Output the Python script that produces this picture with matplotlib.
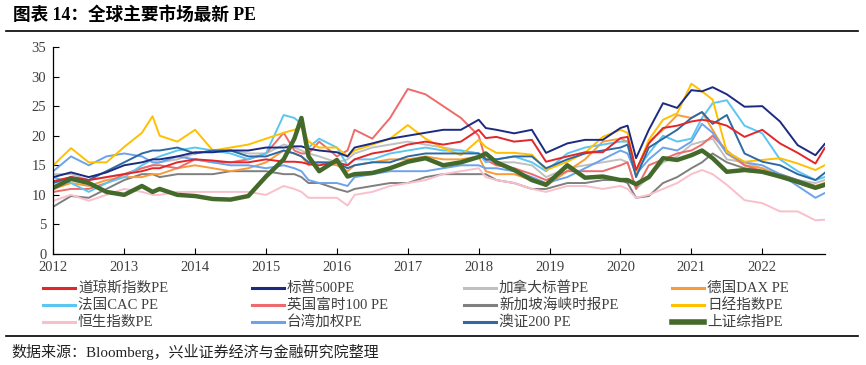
import matplotlib
matplotlib.use("Agg")
import matplotlib.pyplot as plt
from matplotlib.lines import Line2D

plt.rcParams['font.family'] = ['Liberation Serif', 'Noto Sans CJK SC']

title = "图表 14：全球主要市场最新 PE"
source = "数据来源：Bloomberg，兴业证券经济与金融研究院整理"

dates = [2012.0, 2012.25, 2012.5, 2012.75, 2013.0, 2013.25, 2013.4, 2013.5, 2013.75,
         2014.0, 2014.25, 2014.5, 2014.75, 2015.0, 2015.25, 2015.4, 2015.5, 2015.6, 2015.75,
         2016.0, 2016.15, 2016.25, 2016.5, 2016.75, 2017.0, 2017.25, 2017.5, 2017.75,
         2018.0, 2018.1, 2018.25, 2018.5, 2018.75, 2018.95, 2019.25, 2019.5, 2019.75,
         2020.0, 2020.1, 2020.22, 2020.4, 2020.6, 2020.8, 2021.0, 2021.15, 2021.3, 2021.5,
         2021.75, 2022.0, 2022.25, 2022.5, 2022.75, 2022.88]

year_ticks = list(range(2012, 2023))
y_ticks = [0, 5, 10, 15, 20, 25, 30, 35]

dow = [12.3, 13.0, 12.5, 13.0, 13.5, 14.0, 14.5, 14.5, 15.5, 16.0, 15.8, 15.5, 15.5, 16.0, 15.6, 15.6,
       15.5, 15.2, 15.0, 15.5, 15.0, 16.0, 17.0, 17.5, 18.5, 19.0, 18.5, 19.0, 21.0, 19.6, 19.8, 19.0,
       19.3, 15.6, 16.5, 17.2, 17.2, 19.6, 19.8, 14.2, 18.7, 21.3, 21.7, 22.4, 22.7, 22.4, 21.7, 19.8,
       21.0, 18.7, 17.1, 15.3, 17.9]
sp500 = [13.0, 13.8, 13.0, 13.8, 15.0, 15.5, 16.0, 16.0, 16.5, 17.2, 17.2, 17.5, 17.5, 18.0, 18.0, 18.2,
         18.2, 17.8, 17.5, 17.2, 16.5, 18.0, 18.7, 19.5, 20.0, 20.5, 21.0, 21.0, 22.7, 21.3, 21.0, 20.4,
         21.0, 17.1, 18.7, 19.3, 19.3, 21.3, 21.7, 16.2, 21.0, 25.5, 24.7, 27.7, 27.5, 28.2, 27.0, 24.9,
         25.0, 22.4, 18.4, 16.7, 18.6]
canada = [13.5, 13.5, 12.5, 13.0, 13.5, 14.5, 15.0, 15.5, 16.0, 17.0, 17.5, 17.5, 17.0, 17.0, 18.5, 18.0,
          17.5, 17.0, 16.5, 15.5, 16.0, 17.0, 18.0, 18.5, 19.0, 18.5, 18.0, 17.5, 17.0, 16.0, 15.5, 15.5,
          15.0, 13.0, 14.5, 15.0, 15.5, 16.0, 15.5, 11.0, 13.0, 15.5, 16.5, 18.5, 19.0, 19.5, 16.0, 15.5,
          14.5, 13.5, 12.5, 12.0, 12.5]
dax = [11.0, 12.0, 11.5, 12.5, 13.0, 13.0, 13.5, 13.5, 14.5, 15.0, 14.5, 14.0, 14.5, 15.5, 17.5, 17.0,
       16.5, 15.0, 15.5, 15.0, 14.0, 15.0, 15.5, 16.0, 16.0, 16.5, 16.0, 16.0, 16.5, 14.0, 13.5, 13.5,
       12.5, 11.5, 14.0, 16.0, 19.0, 19.5, 19.0, 14.0, 19.0, 21.0, 23.5, 23.0, 24.0, 21.0, 17.0, 15.0,
       14.5, 13.0, 12.0, 11.5, 12.0]
cac = [13.0, 12.0, 10.5, 12.0, 13.0, 15.0, 16.0, 16.5, 17.5, 18.0, 17.5, 17.0, 16.0, 17.0, 23.5, 23.0,
       22.0, 18.0, 19.5, 18.0, 15.0, 16.0, 16.0, 17.0, 17.5, 18.0, 17.5, 17.5, 17.0, 15.5, 16.0, 16.5,
       15.5, 14.0, 17.0, 18.0, 18.5, 19.0, 19.0, 14.0, 17.0, 20.0, 19.0, 19.5, 23.0, 25.5, 26.0, 21.7,
       20.4, 16.0, 14.0, 12.5, 13.0]
ftse = [10.5, 11.0, 11.0, 12.0, 13.5, 14.5, 15.0, 15.0, 14.5, 16.0, 15.5, 15.5, 16.0, 17.0, 20.5, 17.5,
        17.0, 17.0, 19.0, 16.5, 17.5, 21.0, 19.5, 23.0, 27.9, 27.0, 25.0, 23.0, 20.0, 15.9, 15.0, 14.5,
        13.5, 12.5, 14.0, 14.0, 14.0, 15.0, 15.5, 11.0, 15.0, 16.0, 17.0, 17.5, 18.5, 20.0, 17.5, 15.0,
        14.0, 13.0, 12.0, 11.0, 11.5]
singapore = [8.0, 9.8, 9.5, 11.0, 12.5, 13.5, 13.5, 13.0, 13.5, 13.5, 13.5, 14.0, 14.0, 14.0, 13.5, 13.5,
             13.0, 12.0, 12.0, 11.0, 10.5, 11.0, 11.5, 12.0, 12.0, 13.0, 13.5, 13.5, 13.5, 13.5, 12.5, 12.0,
             11.0, 11.0, 12.0, 12.0, 12.5, 12.5, 12.0, 9.5, 9.8, 12.0, 13.0, 14.5, 15.5, 17.0, 15.5, 14.5,
             14.0, 13.5, 12.5, 11.5, 11.5]
nikkei = [15.0, 17.9, 15.5, 15.5, 18.1, 20.5, 23.3, 20.0, 19.0, 21.0, 17.5, 18.0, 18.5, 19.5, 20.5, 21.0,
          21.5, 19.0, 18.0, 18.0, 16.5, 17.5, 18.5, 19.5, 21.8, 19.5, 17.9, 16.7, 19.3, 18.1, 17.1, 17.1,
          16.8, 14.2, 15.6, 17.1, 19.8, 21.0, 20.5, 13.9, 19.3, 22.7, 23.8, 28.8, 27.5, 26.1, 17.3, 15.6,
          15.9, 16.2, 15.3, 14.2, 15.0]
hangseng = [9.0, 10.0, 9.0, 10.0, 11.0, 10.5, 10.0, 10.0, 10.5, 10.5, 10.5, 10.5, 10.5, 10.0, 11.5, 11.0,
            10.5, 9.5, 9.5, 9.5, 8.2, 10.0, 10.5, 11.5, 12.0, 12.5, 13.5, 14.0, 14.5, 13.0, 12.5, 12.0,
            11.0, 10.5, 11.5, 11.5, 11.0, 11.5, 11.0, 9.5, 10.0, 11.0, 12.0, 13.5, 14.2, 13.5, 11.7, 9.1,
            8.6, 7.2, 7.2, 5.7, 5.8]
taiwan = [14.0, 16.5, 15.0, 16.5, 17.0, 16.5, 15.5, 15.5, 16.5, 16.0, 15.5, 15.0, 15.0, 14.5, 15.0, 14.5,
          14.0, 12.5, 12.0, 12.0, 11.5, 13.0, 13.5, 14.0, 14.0, 14.0, 14.5, 15.0, 15.0, 14.5, 14.5, 14.0,
          13.0, 12.0, 13.0, 14.5, 16.0, 17.5, 17.0, 13.5, 16.0, 18.0, 17.5, 19.0, 22.0, 20.5, 17.0, 15.5,
          15.0, 13.5, 11.5, 9.5, 10.3]
asx200 = [12.0, 13.0, 12.5, 14.0, 15.5, 17.0, 17.5, 17.5, 18.0, 17.0, 17.5, 17.5, 16.5, 16.5, 17.5, 17.0,
          16.5, 15.5, 15.5, 15.5, 14.5, 15.0, 15.5, 15.5, 16.5, 17.0, 17.0, 17.0, 17.0, 16.0, 16.0, 16.5,
          16.5, 14.5, 16.0, 17.0, 17.5, 18.0, 18.5, 13.0, 18.0, 19.5, 21.0, 23.0, 24.0, 22.0, 23.5, 17.0,
          15.6, 15.0, 13.5, 12.5, 13.7]
shanghai = [11.2, 12.7, 12.0, 10.5, 10.0, 11.5, 10.5, 11.0, 10.0, 9.8, 9.3, 9.2, 9.8, 13.1, 16.0, 19.5,
            23.0, 16.5, 14.0, 15.9, 13.1, 13.5, 13.7, 14.5, 15.6, 16.2, 15.0, 15.5, 16.4, 17.0, 15.5, 14.2,
            12.5, 11.7, 15.0, 12.9, 13.1, 12.5, 12.5, 11.8, 13.0, 16.2, 15.9, 16.7, 17.5, 16.2, 13.9, 14.2,
            13.9, 13.1, 12.2, 11.2, 11.7]

series_names = ["道琼斯指数PE", "标普500PE", "加拿大标普PE", "德国DAX PE",
                "法国CAC PE", "英国富时100 PE", "新加坡海峡时报PE", "日经指数PE",
                "恒生指数PE", "台湾加权PE", "澳证200 PE", "上证综指PE"]
series_values = [dow, sp500, canada, dax, cac, ftse, singapore, nikkei, hangseng, taiwan, asx200, shanghai]
colors = ["#E3262A", "#1C2B82", "#C0C0C0", "#F89C3B", "#5CC6F2", "#EE6B6B",
          "#7F7F7F", "#FFC000", "#F9BFCB", "#6CA3EA", "#2D6AA3", "#446A2B"]
widths = [1.4] * 11 + [3.2]
draw_order = [2, 6, 8, 3, 5, 9, 4, 7, 10, 0, 1, 11]

W, H = 866, 365
fig = plt.figure(figsize=(W / 100, H / 100), dpi=100)
ax = fig.add_axes([53.3 / W, 1 - 254 / H, (825 - 53.3) / W, (254 - 47) / H])

for i in draw_order:
    ax.plot(dates, series_values[i], color=colors[i], lw=widths[i], solid_joinstyle='round')

ax.set_xlim(2012.0, 2022.885)
ax.set_ylim(0, 35)
ax.set_xticks(year_ticks)
ax.set_xticklabels([str(y) for y in year_ticks])
ax.set_yticks(y_ticks)
for s in ['top', 'right']:
    ax.spines[s].set_visible(False)
for s in ['left', 'bottom']:
    ax.spines[s].set_color('black')
    ax.spines[s].set_linewidth(0.9)
ax.tick_params(direction='in', length=4, width=0.8, colors='black', labelcolor='#404040',
               labelsize=10.5, pad=5)

# title and rules
fig.text(13 / W, 1 - 15 / H, title, fontsize=12.7, fontweight='bold', va='center', ha='left')
fig.add_artist(Line2D([6 / W, 858 / W], [1 - 31 / H, 1 - 31 / H], color='black', lw=1.2))
fig.add_artist(Line2D([6 / W, 858 / W], [1 - 336 / H, 1 - 336 / H], color='black', lw=1.2))
fig.text(11 / W, 1 - 352 / H, source, fontsize=10.8, va='center', ha='left', color='#222222')

# legend (4 columns x 3 rows)
col_x = [43, 252, 464, 672]
row_y = [288, 305, 322]
for i, name in enumerate(series_names):
    c, r = i % 4, i // 4
    x0 = col_x[c]
    y0 = 1 - row_y[r] / H
    lw = 2.2 if i < 11 else 4.0
    fig.add_artist(Line2D([x0 / W, (x0 + 32) / W], [y0, y0], color=colors[i], lw=lw))
    fig.text((x0 + 35) / W, y0, name, fontsize=10.5, va='center', ha='left', color='#404040')

fig.savefig("out.png", dpi=100)
